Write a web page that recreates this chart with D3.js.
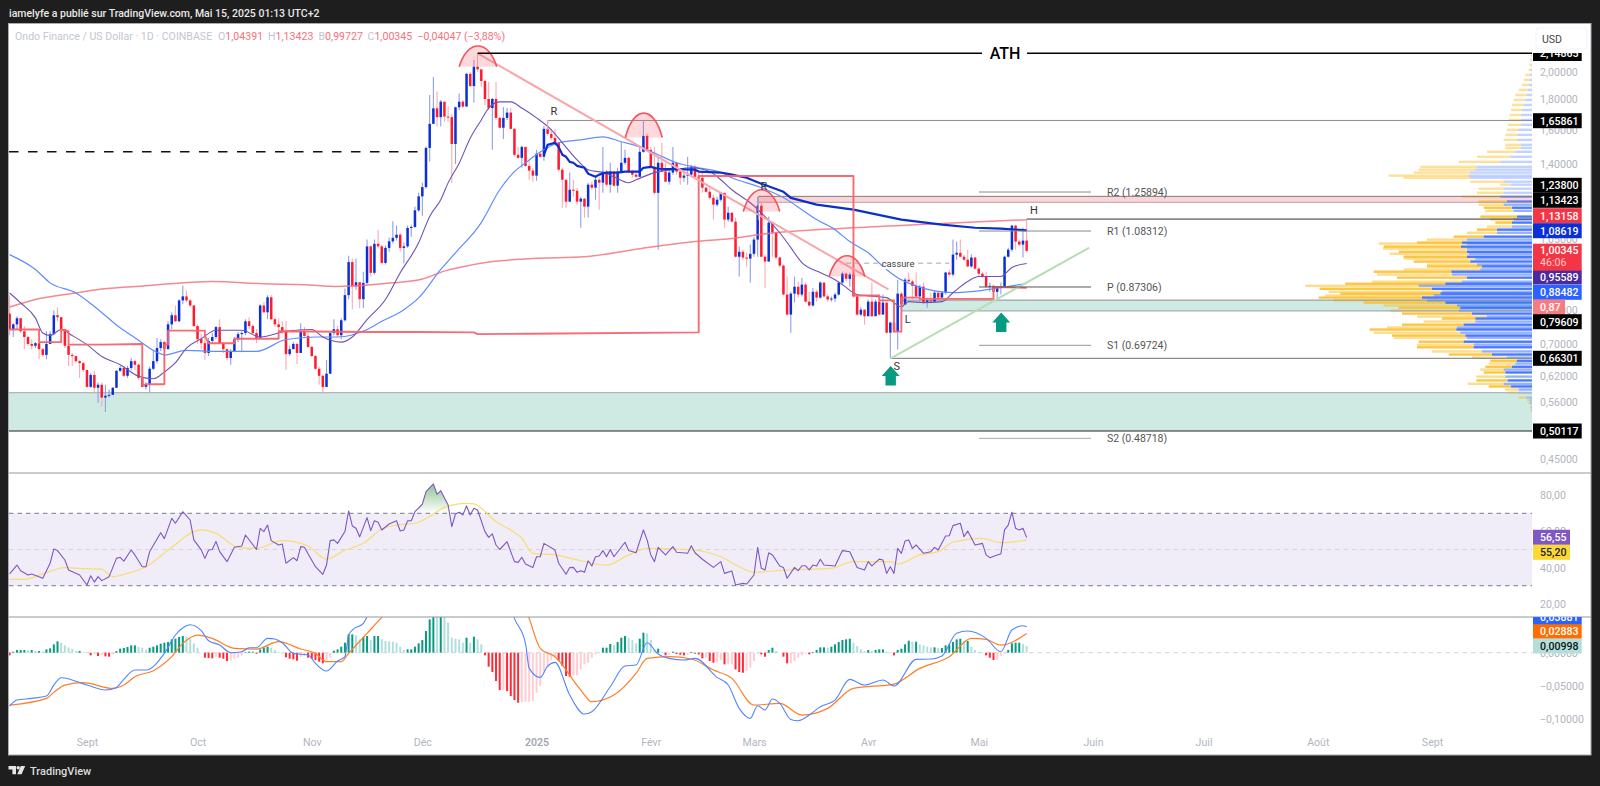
<!DOCTYPE html>
<html><head><meta charset="utf-8"><title>Ondo Finance / US Dollar</title>
<script src="https://cdn.jsdelivr.net/npm/d3@7/dist/d3.min.js"></script>
<style>html,body{margin:0;padding:0;background:#1e1e1e;overflow:hidden}svg{display:block}text{font-family:Roboto,"Liberation Sans",sans-serif}</style>
</head><body><svg id="c" width="1600" height="786"></svg>
<script>
// ---------- DATA ----------
const closes=[.742,.756,.774,.736,.720,.701,.696,.703,.687,.672,.701,.728,.783,.777,.742,.696,.672,.669,.656,.651,.634,.594,.622,.592,.599,.570,.574,.576,.592,.632,.639,.620,.639,.656,.647,.615,.594,.599,.637,.656,.690,.706,.687,.756,.783,.765,.829,.842,.829,.813,.751,.714,.703,.677,.709,.720,.748,.703,.687,.664,.682,.714,.728,.731,.765,.751,.731,.717,.813,.792,.839,.771,.756,.748,.736,.674,.687,.701,.677,.736,.723,.693,.669,.637,.620,.594,.625,.731,.742,.725,.768,.846,.961,.875,.889,.833,
.887,1.021,.922,1.031,1.021,.958,1.015,1.041,1.055,1.068,1.015,1.021,1.096,1.100,1.173,1.238,1.283,1.492,1.637,1.738,1.680,1.783,1.684,1.680,1.515,1.745,1.783,1.750,1.985,1.894,2.040,2.020,
1.931,1.802,1.740,1.802,1.675,1.613,1.675,1.710,1.606,1.453,1.436,1.498,1.392,1.367,1.341,1.459,1.442,1.606,1.575,1.551,1.522,1.372,1.320,1.213,1.270,1.265,1.213,1.227,1.190,1.295,1.280,1.320,1.305,1.362,1.295,1.362,1.290,1.362,1.409,1.436,1.362,1.346,1.335,1.470,1.563,1.481,1.387,1.255,1.409,1.362,1.310,1.357,1.409,1.362,1.330,1.341,1.346,1.387,1.335,1.330,1.280,1.260,1.231,1.199,1.222,1.255,1.132,1.162,1.123,.981,1.000,.978,.974,.992,1.048,1.194,.981,.963,1.119,1.077,.978,.948,.848,.785,.851,.874,.848,.881,.825,.813,.857,.838,.888,.842,.832,.835,.848,.888,.919,.901,.916,.842,.785,.800,.780,.825,.780,.825,.785,.822,.732,.761,.735,.851,.816,.898,.892,.877,.842,.874,.822,.829,.825,.854,.838,.854,.923,.916,.989,.996,.981,.970,.945,.978,.937,.919,.909,.874,.877,.857,.870,.874,.981,1.008,1.106,1.040,1.028,1.04391,1.00345];
const highs=[.846,.759,.780,.774,.751,.723,.714,.706,.703,.690,.736,.736,.798,.807,.777,.742,.701,.677,.669,.659,.654,.634,.627,.632,.604,.604,.599,.588,.594,.634,.644,.644,.644,.664,.659,.651,.615,.605,.642,.682,.717,.714,.709,.765,.792,.813,.833,.878,.861,.833,.813,.756,.728,.728,.717,.731,.751,.771,.706,.687,.687,.720,.734,.736,.771,.777,.756,.742,.817,.823,.846,.846,.777,.774,.765,.765,.696,.706,.703,.759,.748,.731,.696,.672,.642,.622,.659,.736,.771,.751,.774,.868,.985,.974,.974,.889,
.926,1.048,1.024,1.048,1.089,1.028,1.024,1.056,1.125,1.106,1.076,1.036,1.106,1.110,1.190,1.255,1.305,1.500,1.830,1.961,1.854,1.795,1.783,1.750,1.699,1.750,1.841,1.795,1.993,2.000,2.094,2.14865,
2.015,1.939,1.924,1.809,1.924,1.681,1.747,1.740,1.740,1.613,1.498,1.504,1.498,1.425,1.382,1.481,1.470,1.625,1.662,1.606,1.606,1.528,1.382,1.320,1.357,1.320,1.280,1.236,1.231,1.305,1.310,1.330,1.335,1.498,1.372,1.409,1.362,1.382,1.528,1.481,1.442,1.372,1.362,1.498,1.662,1.575,1.498,1.498,1.442,1.522,1.409,1.372,1.498,1.414,1.372,1.362,1.442,1.398,1.398,1.362,1.357,1.285,1.280,1.246,1.236,1.260,1.255,1.190,1.167,1.141,1.020,1.008,.996,1.028,1.060,1.236,1.213,.989,1.145,1.123,1.081,.981,.952,.909,.857,.909,.892,.905,.888,.857,.870,.864,.892,.888,.848,.842,.854,.892,.926,.923,.923,.923,.848,.809,.800,.832,.888,.832,.832,.848,.822,.764,.832,.898,.857,.905,.923,.898,.923,.881,.888,.838,.854,.860,.857,.857,.926,.934,1.048,1.040,1.048,.989,1.008,.989,.981,.941,.926,.926,.888,.881,.874,.888,.985,1.016,1.110,1.110,1.048,1.097,1.13423];
const lows=[.725,.720,.742,.731,.687,.696,.687,.690,.661,.667,.661,.701,.725,.765,.736,.690,.644,.644,.651,.615,.629,.592,.592,.581,.559,.551,.539,.570,.579,.592,.629,.617,.615,.634,.634,.610,.594,.588,.581,.634,.651,.682,.647,.696,.742,.762,.762,.817,.823,.807,.748,.701,.687,.659,.669,.703,.714,.701,.677,.659,.647,.679,.706,.679,.725,.742,.728,.703,.714,.789,.771,.768,.748,.731,.728,.634,.669,.687,.649,.677,.720,.690,.667,.634,.599,.581,.594,.625,.725,.720,.714,.765,.833,.801,.864,.804,
.805,.881,.909,.916,1.012,.952,.952,1.000,1.032,1.044,1.001,.957,1.016,1.060,1.097,1.167,1.149,1.275,1.416,1.637,1.620,1.620,1.651,1.651,1.304,1.403,1.727,1.738,1.750,1.887,1.777,2.000,
1.888,1.760,1.727,1.481,1.662,1.606,1.545,1.662,1.600,1.442,1.431,1.382,1.387,1.320,1.310,1.315,1.436,1.420,1.563,1.539,1.510,1.362,1.185,1.185,1.213,1.236,1.199,1.097,1.141,1.141,1.270,1.222,1.176,1.255,1.285,1.255,1.285,1.255,1.357,1.398,1.357,1.330,1.330,1.335,1.465,1.470,1.382,1.246,1.008,1.357,1.310,1.295,1.346,1.346,1.295,1.310,1.295,1.335,1.330,1.310,1.255,1.255,1.222,1.132,1.190,1.213,1.097,1.123,1.119,.978,.909,.970,.945,.888,.981,.981,.978,.870,.963,.981,.970,.941,.845,.782,.732,.822,.838,.842,.822,.809,.809,.825,.835,.838,.825,.825,.825,.845,.881,.892,.874,.838,.780,.780,.755,.780,.778,.780,.782,.785,.730,.66301,.732,.686,.809,.816,.888,.832,.838,.825,.816,.806,.822,.822,.832,.835,.848,.909,.909,.970,.978,.965,.941,.941,.934,.909,.905,.870,.857,.854,.835,.848,.870,.978,1.000,1.008,1.020,.978,.99727];
const firstOpen=.788;

// moving averages: [candle index, value]
const maPurple=[[0,.853],[3,.821],[7,.775],[9,.731],[11,.724],[14,.741],[17,.724],[21,.699],[25,.668],[30,.647],[35,.619],[39,.613],[42,.629],[45,.652],[48,.690],[52,.715],[56,.739],[63,.739],[68,.720],[75,.736],[82,.741],[85,.720],[90,.706],[93,.720],[97,.770],[102,.832],[106,.922],[111,1.035],[114,1.146],[117,1.222],[119,1.304],[122,1.407],[125,1.549],[128,1.662],[130,1.740],[133,1.782],[136,1.782],[139,1.740],[143,1.675],[147,1.600],[150,1.522],[154,1.425],[157,1.372],[161,1.357],[164,1.335],[168,1.305],[170,1.320],[176,1.362],[180,1.372],[185,1.382],[190,1.362],[193,1.320],[196,1.270],[201,1.208],[205,1.145],[209,1.076],[212,1.016],[215,.959],[220,.923],[224,.898],[226,.881],[230,.848],[235,.842],[238,.838],[242,.809],[244,.825],[248,.822],[253,.825],[256,.854],[260,.892],[263,.909],[269,.909],[272,.941],[276,.95589]];
const maBlue=[[0,.989],[7,.934],[11,.887],[18,.853],[23,.810],[30,.746],[34,.718],[40,.679],[42,.672],[48,.684],[56,.681],[67,.681],[75,.713],[83,.720],[89,.720],[97,.741],[101,.765],[107,.800],[111,.837],[117,.934],[121,.996],[128,1.119],[133,1.270],[137,1.362],[140,1.409],[145,1.481],[149,1.522],[155,1.539],[161,1.557],[166,1.528],[171,1.498],[176,1.453],[181,1.409],[187,1.382],[193,1.357],[196,1.330],[204,1.280],[211,1.222],[215,1.176],[219,1.132],[224,1.089],[228,1.040],[233,.996],[237,.945],[241,.905],[245,.881],[251,.860],[256,.854],[263,.860],[267,.867],[272,.877],[276,.88482]];
const ma200=[[0,.808],[7,.832],[18,.853],[25,.866],[37,.877],[55,.892],[69,.884],[80,.881],[89,.875],[104,.887],[112,.900],[118,.928],[122,.941],[131,.963],[142,.974],[156,.981],[171,1.012],[186,1.040],[196,1.052],[203,1.068],[229,1.097],[253,1.115],[276,1.13158]];
const maThick=[[145,1.453],[146,1.510],[148,1.522],[149,1.498],[150,1.453],[151,1.442],[152,1.414],[153,1.409],[154,1.392],[156,1.382],[157,1.351],[159,1.335],[160,1.346],[162,1.357],[165,1.357],[167,1.362],[171,1.362],[172,1.382],[174,1.387],[176,1.377],[186,1.372],[187,1.362],[193,1.357],[196,1.346],[200,1.330],[204,1.300],[210,1.260],[212,1.231],[219,1.199],[229,1.176],[242,1.132],[253,1.110],[262,1.097],[269,1.093],[276,1.08619]];
const stepRed=[[0,.741],[8,.741],[8,.706],[14,.706],[14,.741],[16,.736],[16,.699],[25,.699],[36,.701],[36,.597],[37,.600],[42,.600],[42,.699],[43,.699],[43,.738],[53,.738],[53,.724],[54,.703],[61,.703],[61,.715],[73,.715],[73,.736],[98,.734],[110,.734],[126,.733],[127,.728],[141,.729],[187,.733],[187,1.339],[229,1.339],[229,.845],[236,.845],[236,.829],[240,.829],[240,.735],[242,.735],[242,.838],[247,.838],[247,.834],[267,.834],[267,.873],[276,.87]];

// drawings
const trendRed=[[127,2.14865],[238.5,.8654]];
const trendGreen=[[239.1,.66301],[293,1.016]];
const arcDays=[[122,132.2],[167.1,177.1],[199.1,209],[222.4,232.1]];
const arcBase=[2.040,1.553,1.168,.909];
const arcTop=[2.21,1.706,1.270,.985];
const arrowDays=[239.1,269.1];
const arrowPrices=[.644,.791];
const levelAth=2.14865,levelR=1.65861,levelS=.66301,levelH=1.13423;
const bandPink=[1.238,1.21],bandGreen=[.83,.79609],bandZone=[.581,.50117];
const dashedLevel=1.47,cassureLevel=.957;
const pivotNames=["R2 (1.25894)","R1 (1.08312)","P (0.87306)","S1 (0.69724)","S2 (0.48718)"];
const pivotValues=[1.25894,1.08312,.87306,.69724,.48718];

// volume profile
const profilePrice=[2.134,2.094,2.055,2.015,1.977,1.939,1.902,1.866,1.830,1.795,1.761,1.727,1.694,1.662,1.631,1.600,1.569,1.539,1.510,1.492,1.470,1.442,1.414,1.387,1.372,1.357,1.341,1.330,1.310,1.295,1.275,1.255,1.236,1.213,1.199,1.185,1.171,1.145,1.132,1.119,1.102,1.089,1.076,1.060,1.048,1.036,1.032,1.020,1.012,1.000,.992,.981,.974,.963,.952,.945,.934,.926,.916,.905,.891,.884,.877,.867,.857,.851,.845,.838,.829,.822,.813,.806,.797,.788,.779,.773,.764,.755,.747,.741,.732,.724,.718,.707,.699,.692,.681,.673,.665,.657,.650,.642,.635,.628,.618,.609,.601,.595,.588,.581,.570,.564,.558,.549,.543];
const profileTotal=[3,6,8,10,20,25,30,40,50,55,60,63,67,70,72,75,80,85,80,80,135,165,220,335,340,355,430,385,185,95,160,165,210,160,160,145,140,155,125,110,135,165,195,235,315,345,460,445,447,400,427,385,385,355,315,315,385,475,465,405,480,560,680,637,610,575,620,640,595,505,445,400,425,390,345,270,325,390,435,487,475,420,415,340,345,345,300,250,180,125,130,140,155,145,167,167,193,130,80,75,40,15,10,7,5];
const profileUp=[1,2,2,3,5,8,10,13,15,20,25,30,33,33,33,40,43,45,33,33,50,65,95,165,170,185,190,185,85,65,85,85,95,75,85,60,55,45,55,60,60,105,105,145,195,210,195,213,195,195,190,195,170,185,165,150,155,242,240,195,210,260,340,300,270,275,295,330,315,260,225,215,220,180,135,170,170,205,225,227,215,200,195,205,175,175,150,120,75,45,50,60,85,80,80,73,85,63,40,40,17,7,7,3,2];

// RSI
const rsiLine=[[0,36.5],[2,41.4],[3,38.3],[5,35.9],[6,36.5],[9,34.1],[11,42.4],[12,50.3],[13,49.4],[15,44.2],[16,38.7],[19,35.9],[21,30.4],[22,35.5],[23,32],[24,35],[25,32.8],[27,35],[29,45.1],[30,45.7],[31,43.6],[33,49.7],[34,47],[36,40.5],[37,40.5],[38,48.8],[41,59.3],[42,56],[44,67.2],[45,64.5],[47,70.9],[49,66.3],[50,55.3],[52,49.8],[53,45.1],[54,49.7],[55,50],[56,54.5],[57,48.8],[59,43.3],[61,51.2],[63,51.9],[64,58],[67,50],[68,61.7],[69,59.9],[70,63.5],[71,54.9],[73,52.5],[74,53],[75,42.4],[77,45.5],[78,43.8],[79,51.6],[80,51.2],[83,40.5],[85,36.3],[86,41.4],[87,54.9],[88,55.3],[89,53.4],[91,59.9],[92,71.3],[93,63],[94,61.7],[95,57],[97,67.6],[98,60.4],[99,65.9],[100,65],[101,60.8],[103,64.1],[105,65.9],[106,60.2],[107,60.8],[108,65.8],[109,65.9],[110,70.9],[112,75],[113,82],[115,86.2],[116,80.5],[117,82.5],[119,74.6],[120,62.6],[121,69.6],[122,70.6],[123,69.1],[124,74.1],[125,69.1],[126,72.8],[127,71.8],[129,59.9],[130,56.7],[131,58.6],[132,52.5],[133,50],[135,54.3],[137,43.3],[138,42.9],[139,45.7],[140,42],[142,40.1],[143,46],[144,46],[145,53.4],[148,49.7],[149,42.4],[151,36.3],[152,40],[153,40.1],[154,37.4],[155,38.3],[156,37.4],[157,43.8],[158,40.9],[159,46],[160,46.4],[161,49.4],[162,46],[163,50],[164,46],[167,54],[168,49.4],[170,48.2],[172,60.8],[173,55.3],[174,47],[175,43.3],[176,51.2],[178,47],[180,51.6],[181,48.5],[184,47.9],[185,52.1],[186,48.2],[188,44.6],[191,40.1],[193,43.3],[194,36.8],[196,38.1],[197,30.4],[199,31.3],[200,30.9],[202,35.9],[203,51.2],[204,39.6],[205,38.7],[206,48.2],[207,47],[209,40.9],[210,40.1],[211,34.1],[213,40.1],[214,38.3],[215,41],[216,41],[217,38.7],[218,41.4],[219,40.9],[220,44.6],[221,41.4],[224,40.9],[226,49.4],[228,48.8],[230,40.1],[232,38.7],[233,43.3],[234,40.9],[236,44.7],[237,44.2],[238,36.8],[239,40.5],[240,36.8],[241,50.6],[242,47.9],[243,54.7],[244,55.3],[245,50.6],[246,52.5],[248,47.9],[250,48.8],[251,51.2],[252,49.7],[254,57.5],[255,57.6],[256,63.2],[258,64.5],[259,57.1],[260,60.2],[262,52.5],[264,53.4],[265,47],[266,45.5],[268,47],[269,47.5],[270,60.8],[271,63.5],[272,70.6],[273,61.7],[274,60.8],[275,61.7],[276,56.55]];
const rsiMa=[[0,33.5],[4,33.5],[9,36.5],[15,40],[19,39.6],[25,39],[28,35],[32,36.8],[37,40.5],[44,51.2],[50,59.9],[52,60.8],[56,58.9],[62,51.2],[67,50.6],[74,54.9],[81,51.9],[86,44.7],[91,49.7],[96,53.4],[101,61.3],[105,63.5],[110,64.5],[114,68.2],[118,73.3],[124,75.5],[126,75.2],[132,65.4],[136,60.8],[139,56.2],[142,47.9],[148,47],[155,43.8],[162,41.4],[168,47],[173,50.6],[184,50],[193,46],[198,40.5],[202,37.4],[211,38.7],[223,39.6],[229,43.3],[239,43.3],[241,42],[247,47],[252,48.8],[256,54],[264,56.2],[269,53.8],[276,55.2]];
const rsiLevels=[70,50,30];

// MACD
const macdHist=[-.004,.0015,.004,.004,.004,.0035,.004,.0025,.0025,.002,.005,.0065,.0125,.017,.015,.011,.008,.006,.0025,.0025,.001,0,-.004,-.002,-.005,-.0035,-.0055,-.006,-.0025,.0025,.006,.007,.0085,.011,.011,.0085,.0075,.0045,.0075,.009,.011,.0135,.015,.016,.02,.021,.0235,.025,.024,.021,.014,.0075,0,-.0075,-.008,-.0085,-.0065,-.0075,-.009,-.0125,-.011,-.009,-.0075,-.004,.001,.0015,.0015,-.0015,.005,.0075,.009,.0075,.004,.0015,.001,-.007,-.009,-.01,-.012,-.006,-.005,-.0075,-.009,-.011,-.0135,-.016,-.011,-.0075,.003,.005,.009,.015,.0275,.0275,.026,.02,.0235,.025,.019,.025,.025,.02,.0175,.017,.0165,.015,.009,.004,.005,.005,.009,.014,.019,.0325,.05,.06,.055,.06,.0575,.045,.0225,.021,.02,.015,.0225,.015,.024,.02,.0125,-.004,-.021,-.029,-.0425,-.056,-.056,-.0575,-.065,-.071,-.075,-.074,-.0735,-.0735,-.0725,-.06,-.05,-.03,-.0225,-.011,-.005,-.0125,-.02,-.035,-.036,-.034,-.034,-.025,-.0175,-.015,-.0075,-.0025,0,.0075,.0075,.013,.0115,.016,.0225,.025,.0225,.019,.014,.021,.03,.029,.019,.005,.006,.0015,-.004,-.0025,.0015,-.002,-.003,-.004,-.003,.001,-.0015,-.0025,-.0085,-.0075,-.0125,-.015,-.014,-.011,-.0175,-.0175,-.0175,-.025,-.029,-.03,-.0275,-.0225,-.0125,-.0015,-.0025,-.006,.004,.0075,.0025,0,-.006,-.016,-.016,-.0125,-.0075,-.004,-.0015,-.0025,.001,.004,.008,.008,.0075,.009,.0125,.016,.019,.02,.021,.015,.01,.005,.0025,.004,.0025,.004,.005,.005,.0015,.001,-.004,.004,.006,.0125,.018,.0165,.0165,.0125,.011,.009,.008,.008,.007,.007,.011,.0125,.016,.02,.021,.0175,.0175,.009,.004,.0015,.0005,-.004,-.0075,-.011,-.011,-.005,-.0015,.004,.014,.015,.015,.013,.00998];
const macdLine=[[0,-.08],[2,-.071],[6,-.0685],[10,-.065],[12,-.0485],[14,-.0375],[21,-.0485],[26,-.056],[29,-.052],[31,-.04],[34,-.026],[37,-.026],[42,-.001],[45,.0265],[48,.0405],[49,.042],[52,.033],[54,.018],[57,.0115],[60,0],[63,.0015],[65,.0075],[67,.0075],[70,.0215],[72,.0205],[74,.015],[77,-.001],[81,-.0035],[83,-.016],[86,-.0275],[89,-.0125],[91,-.006],[92,.0265],[93,.034],[96,.044],[97,.054],[105,.12],[120,.24],[130,.2],[137,.0515],[140,.014],[141,-.0235],[144,-.037],[146,-.02],[148,-.0145],[152,-.0635],[156,-.092],[158,-.0885],[163,-.051],[167,-.02],[170,-.0185],[173,.015],[176,-.002],[179,-.0085],[183,-.011],[186,-.0085],[192,-.037],[195,-.0485],[198,-.0835],[201,-.0985],[203,-.0795],[205,-.086],[207,-.0695],[209,-.076],[212,-.1],[214,-.102],[217,-.0935],[220,-.081],[224,-.071],[228,-.04],[232,-.0485],[237,-.041],[240,-.05],[246,-.01],[250,-.0095],[253,-.005],[257,.029],[260,.0325],[265,.0215],[269,.0015],[272,.034],[275,.0405],[276,.03881]];
const macdSignal=[[0,-.0785],[10,-.0685],[12,-.0595],[15,-.0485],[20,-.045],[28,-.0535],[31,-.0485],[34,-.036],[39,-.027],[44,-.006],[47,.014],[51,.0265],[55,.0215],[61,.0065],[67,.0055],[73,.0165],[79,.0055],[83,-.001],[86,-.0135],[90,-.0135],[92,-.001],[97,.029],[101,.053],[110,.1],[120,.2],[130,.22],[136,.12],[141,.0515],[144,.0065],[148,-.006],[155,-.056],[158,-.0735],[164,-.0635],[170,-.031],[173,-.0085],[179,-.006],[185,-.0095],[191,-.026],[196,-.0385],[202,-.0785],[209,-.076],[215,-.0935],[222,-.0835],[229,-.0535],[240,-.047],[247,-.0235],[255,-.006],[261,.0215],[265,.02],[269,.0115],[276,.02883]];

// axis ticks
const priceTicks=[2,1.8,1.6,1.4,1.05,.8,.7,.62,.56,.45];
const rsiTicks=[80,60,40,20];
const macdTicks=[0,-.05,-.1];
const timeTicks=[[2024,8],[2024,9],[2024,10],[2024,11],[2025,0],[2025,1],[2025,2],[2025,3],[2025,4],[2025,5],[2025,6],[2025,7],[2025,8]];
const timeNames=["Sept","Oct","Nov","Déc","2025","Févr","Mars","Avr","Mai","Juin","Juil","Août","Sept"];

// value labels (text, stack position, colours, box width)
const priceTags=[
 {t:"1,65861",cy:120.7,bg:"#000",fg:"#fff"},{t:"1,23800",cy:185.3,bg:"#000",fg:"#fff"},{t:"1,13423",cy:200.3,bg:"#000",fg:"#fff"},
 {t:"1,13158",cy:215.7,bg:"#f23645",fg:"#fff"},{t:"1,08619",cy:230.7,bg:"#0b2fd6",fg:"#fff"},
 {t:"0,95589",cy:277,bg:"#4a2a9e",fg:"#fff"},{t:"0,88482",cy:292.3,bg:"#2962ff",fg:"#fff"},{t:"0,87",cy:307,bg:"#f77c80",fg:"#fff",w:32},
 {t:"0,79609",cy:321.7,bg:"#000",fg:"#fff"},{t:"0,66301",cy:358.3,bg:"#000",fg:"#fff"},{t:"0,50117",cy:431,bg:"#000",fg:"#fff"},
 {t:"56,55",cy:537.3,bg:"#7e57c2",fg:"#fff",w:37},{t:"55,20",cy:552.3,bg:"#fdd835",fg:"#222",w:37},
 {t:"0,02883",cy:631.3,bg:"#ff6d00",fg:"#fff"},{t:"0,00998",cy:646,bg:"#b2dfdb",fg:"#111"}];

// ---------- SCALES ----------
const dayMs=864e5, startMs=Date.UTC(2024,7,11);
const day=i=>new Date(startMs+i*dayMs);
const X0=9,X1=1532,Y0=24,Ym=473,Yr=617,Yb=755;
const x=d3.scaleUtc().domain([day(0),day(413)]).range([9.6,9.6+3.685*413]);
const y=d3.scaleLog().domain([2.14865,.50117]).range([53.3,431]);
const yr=d3.scaleLinear().domain([70,30]).range([513.3,585.7]);
const ym=d3.scaleLinear().domain([0,-.1]).range([652.7,719.4]);
const vol=d3.scaleLinear().domain([0,3]).range([0,1]);
const comma=(d,n)=>d.toFixed(n).replace(".",",").replace("-","−");

const svg=d3.select("#c");
svg.append("rect").attr("width",1600).attr("height",786).attr("fill","#1e1e1e");
svg.append("rect").attr("x",X0-.5).attr("y",Y0-.5).attr("width",1591-X0+.5).attr("height",Yb-Y0+.5).attr("fill","#fff").attr("stroke","#a8abb3");
const defs=svg.append("defs");
const clip=(id,a,b)=>defs.append("clipPath").attr("id",id).append("rect").attr("x",X0).attr("y",a).attr("width",X1-X0).attr("height",b-a);
clip("cMain",Y0,Ym);clip("cRsi",Ym,Yr);clip("cMacd",Yr,738);
const grad=defs.append("linearGradient").attr("id","gOb").attr("x1",0).attr("x2",0).attr("gradientUnits","userSpaceOnUse")
 .attr("y1",yr(86)).attr("y2",yr(70));
grad.append("stop").attr("offset",0).attr("stop-color","#43a047").attr("stop-opacity",.6);
grad.append("stop").attr("offset",1).attr("stop-color","#43a047").attr("stop-opacity",0);
defs.append("clipPath").attr("id","cOb").append("rect").attr("x",X0).attr("y",Ym).attr("width",X1-X0).attr("height",yr(70)-Ym);

// ---------- MAIN PANE ----------
const main=svg.append("g").attr("clip-path","url(#cMain)");
const hband=(p,x0,fill)=>main.append("rect").attr("x",x0).attr("y",y(p[0])).attr("width",X1-x0).attr("height",y(p[1])-y(p[0])).attr("fill",fill);
const hline=(p,x0,col,w,dash,x1)=>main.append("line").attr("x1",x0).attr("x2",x1||X1).attr("y1",y(p)).attr("y2",y(p)).attr("stroke",col).attr("stroke-width",w).attr("stroke-dasharray",dash||null);

hband(bandZone,X0,"#cfe9e3");
hband(bandGreen,x(day(242)),"#cfe9e3");
hband(bandPink,x(day(203.2)),"#fdd5d8");

// volume profile
const rowOp=p=>(p<=1.238&&p>=.588);
const prof=main.append("g");
prof.selectAll("rect.t").data(profilePrice).join("rect").attr("class","t")
 .attr("x",(p,i)=>X1-vol(profileTotal[i])).attr("y",p=>y(p)-1.2).attr("height",2.4)
 .attr("width",(p,i)=>vol(profileTotal[i])-vol(profileUp[i]))
 .attr("fill","#fbc02d").attr("opacity",(p,i)=>rowOp(p)?(i%2?.9:.55):.48);
prof.selectAll("rect.u").data(profilePrice).join("rect").attr("class","u")
 .attr("x",(p,i)=>X1-vol(profileUp[i])).attr("y",p=>y(p)-1.2).attr("height",2.4)
 .attr("width",(p,i)=>vol(profileUp[i]))
 .attr("fill","#2962ff").attr("opacity",(p,i)=>rowOp(p)?(i%2?.85:.5):.28);

// zone borders and levels
hline(bandZone[0],X0,"#b4b6ba",1.2);hline(bandZone[1],X0,"#222",1);
hline(bandGreen[0],x(day(242)),"#8a8d90",1);hline(bandGreen[1],x(day(242)),"#9a9c9f",1);
hline(bandPink[0],x(day(203.2)),"#7c7c7c",1);hline(bandPink[1],x(day(203.2)),"#b8a0a2",1);
hline(levelR,x(day(146)),"#8d8d8d",1);
hline(levelS,x(day(239.1)),"#8d8d8d",1.2);
hline(levelH,x(day(276)),"#333",1);
hline(dashedLevel,X0,"#111",1.4,"9.5 9.5",x(day(113)));

// candles
const opens=closes.map((c,i)=>i?closes[i-1]:firstOpen);
const up=i=>closes[i]>=opens[i];
const idx=d3.range(closes.length);
const BLUE="#0b2fd6",RED="#ff1a2e";
main.append("g").selectAll("line").data(idx).join("line")
 .attr("x1",i=>x(day(i))).attr("x2",i=>x(day(i))).attr("y1",i=>y(highs[i])).attr("y2",i=>y(lows[i]))
 .attr("stroke",i=>up(i)?"#8f9fe8":"#fbaab0").attr("stroke-width",1.1);
main.append("g").selectAll("rect").data(idx).join("rect")
 .attr("x",i=>x(day(i))-1.25).attr("width",2.5)
 .attr("y",i=>y(Math.max(opens[i],closes[i])))
 .attr("height",i=>Math.max(1,y(Math.min(opens[i],closes[i]))-y(Math.max(opens[i],closes[i]))))
 .attr("fill",i=>up(i)?BLUE:RED);

// indicator lines
const lp=d3.line().x(d=>x(day(d[0]))).y(d=>y(d[1]));
const lps=d3.line().x(d=>x(day(d[0]))).y(d=>y(d[1])).curve(d3.curveMonotoneX);
const draw=(g,gen,d,col,w,op)=>g.append("path").attr("d",gen(d)).attr("fill","none").attr("stroke",col).attr("stroke-width",w).attr("opacity",op||1).attr("stroke-linejoin","round");
draw(main,lps,ma200,"#f4737b",1.5,.85);
draw(main,lps,maBlue,"#5f8dff",1.2);
draw(main,lps,maPurple,"#6f52b5",1.1);
draw(main,lp,maThick,"#0b2fc9",2.2);
draw(main,lp,stepRed,"#f7636c",1.9,.95);

// drawings
draw(main,lp,trendRed,"#f9a6ab",2);
draw(main,lp,trendGreen,"#b5deb1",2);
// head and shoulder arcs
arcDays.forEach((d,k)=>{
  const a=x(day(d[0])),b=x(day(d[1])),yb=y(arcBase[k]),h=(yb-y(arcTop[k]))*4/3,w=b-a;
  const dd=`M${a},${yb}C${a+w*.22},${yb-h} ${b-w*.22},${yb-h} ${b},${yb}`;
  main.append("path").attr("d",dd).attr("fill","#f7525f").attr("fill-opacity",.22).attr("stroke","none");
  main.append("path").attr("d",dd).attr("fill","none").attr("stroke","#f2545f").attr("stroke-width",1.6);
});
// ATH
hline(levelAth,x(day(127)),"#000",1.6);
main.append("rect").attr("x",982).attr("y",y(levelAth)-8).attr("width",45).attr("height",16).attr("fill","#fff");
main.append("text").attr("x",1005).attr("y",y(levelAth)).attr("dy","0.36em").attr("text-anchor","middle").attr("font-size",16).attr("font-weight",500).attr("fill","#000").text("ATH");
// small verticals
main.append("line").attr("x1",x(day(146))).attr("x2",x(day(146))).attr("y1",y(levelR)).attr("y2",y(1.6)).attr("stroke","#f6a5aa").attr("stroke-width",1);
main.append("line").attr("x1",x(day(203.2))).attr("x2",x(day(203.2))).attr("y1",y(bandPink[0])).attr("y2",y(1.13)).attr("stroke","#9aa6d8").attr("stroke-width",1);
// cassure
const cy=y(cassureLevel);
main.append("line").attr("x1",x(day(227))).attr("x2",x(day(255))).attr("y1",cy).attr("y2",cy).attr("stroke","#a5a7ab").attr("stroke-width",1).attr("stroke-dasharray","5 4");
main.append("rect").attr("x",883).attr("y",cy-6).attr("width",30).attr("height",12).attr("fill","#fff");
main.append("text").attr("x",898).attr("y",cy).attr("dy","0.36em").attr("text-anchor","middle").attr("font-size",9.3).attr("fill","#444").text("cassure");
// letters
const letter=(t,xx,yy)=>main.append("text").attr("x",xx).attr("y",yy).attr("dy","0.36em").attr("text-anchor","middle").attr("font-size",11).attr("fill","#333").text(t);
letter("R",554,111);letter("R",764,186);letter("H",1034,210);letter("L",907.7,319);letter("S",896.7,366);
// pivots
pivotValues.forEach((p,k)=>{
  main.append("line").attr("x1",979).attr("x2",1091).attr("y1",y(p)).attr("y2",y(p)).attr("stroke",k==2?"#555":k==3||k==4?"#aaa":"#8a8a8a").attr("stroke-width",k==3?1.3:1);
  main.append("text").attr("x",1107).attr("y",y(p)).attr("dy","0.36em").attr("font-size",10.5).attr("fill","#555").text(pivotNames[k]);
});
// arrows
arrowDays.forEach((d,k)=>{
  main.append("path").attr("transform",`translate(${x(day(d))},${y(arrowPrices[k])})`)
   .attr("d","M0,0L9,10L5.2,10L5.2,19.5L-5.2,19.5L-5.2,10L-9,10Z").attr("fill","#089981");
});

// ---------- RSI ----------
const rg=svg.append("g").attr("clip-path","url(#cRsi)");
rg.append("rect").attr("x",X0).attr("width",X1-X0).attr("y",yr(70)).attr("height",yr(30)-yr(70)).attr("fill","#f0edf8");
rsiLevels.forEach(v=>rg.append("line").attr("x1",X0).attr("x2",X1).attr("y1",yr(v)).attr("y2",yr(v)).attr("stroke",v==50?"#d5d5db":"#787b86").attr("stroke-width",1).attr("stroke-dasharray","4.5 4"));
const lr=d3.line().x(d=>x(day(d[0]))).y(d=>yr(d[1]));
const lrs=d3.line().x(d=>x(day(d[0]))).y(d=>yr(d[1])).curve(d3.curveMonotoneX);
rg.append("path").attr("clip-path","url(#cOb)").attr("d",d3.area().x(d=>x(day(d[0]))).y0(yr(70)).y1(d=>yr(d[1]))(rsiLine)).attr("fill","url(#gOb)");
draw(rg,lrs,rsiMa,"#f9dc72",1.2);
draw(rg,lr,rsiLine,"#7e57c2",1.1);

// ---------- MACD ----------
const mg=svg.append("g").attr("clip-path","url(#cMacd)");
mg.append("line").attr("x1",X0).attr("x2",X1).attr("y1",ym(0)).attr("y2",ym(0)).attr("stroke","#d5d5db").attr("stroke-dasharray","4.5 4");
mg.append("g").selectAll("rect").data(macdHist).join("rect")
 .attr("x",(v,i)=>x(day(i))-1).attr("width",2)
 .attr("y",v=>v>=0?ym(v):ym(0)).attr("height",v=>Math.abs(ym(v)-ym(0)))
 .attr("fill",(v,i)=>{const p=i?macdHist[i-1]:0;return v>=0?(v>=p?"#089981":"#b2dfdb"):(v<p?"#ff2a35":"#ffcdd2");});
const lm=d3.line().x(d=>x(day(d[0]))).y(d=>ym(d[1])).curve(d3.curveMonotoneX);
draw(mg,lm,macdSignal,"#ff7f27",1.2);
draw(mg,lm,macdLine,"#4f86ff",1.1);

// ---------- SEPARATORS ----------
[Ym,Yr].forEach(v=>svg.append("line").attr("x1",X0).attr("x2",1591).attr("y1",v).attr("y2",v).attr("stroke","#9598a1").attr("stroke-width",1.2));

// ---------- AXES ----------
const FS=10.6,AX="#b2b5be";
const axisStyle=g=>{g.select(".domain").remove();g.selectAll("line").remove();g.selectAll("text").attr("font-size",FS).attr("fill",AX).attr("font-family",null).style("font-family",'Roboto,"Liberation Sans",sans-serif');};
svg.append("g").attr("transform",`translate(${X1},0)`).call(d3.axisRight(y).tickValues(priceTicks).tickFormat(d=>comma(d,5)).tickSize(0).tickPadding(8)).call(axisStyle);
svg.append("g").attr("transform",`translate(${X1},0)`).call(d3.axisRight(yr).tickValues(rsiTicks).tickFormat(d=>comma(d,2)).tickSize(0).tickPadding(8)).call(axisStyle);
svg.append("g").attr("transform",`translate(${X1},0)`).call(d3.axisRight(ym).tickValues(macdTicks).tickFormat(d=>comma(d,5)).tickSize(0).tickPadding(8)).call(axisStyle);
const tAxis=svg.append("g").attr("transform","translate(0,733)").call(d3.axisBottom(x).tickValues(timeTicks.map(t=>new Date(Date.UTC(t[0],t[1],1)))).tickFormat((d,i)=>timeNames[i]).tickSize(0).tickPadding(5)).call(axisStyle);
tAxis.selectAll("text").attr("font-weight",(d,i)=>timeNames[i]=="2025"?600:400).attr("fill",(d,i)=>timeNames[i]=="2025"?"#a3a6af":AX);

// ---------- VALUE TAGS ----------
const tag=(g,o)=>{
  const w=o.w||48.7;
  g.append("rect").attr("x",1533).attr("y",o.cy-7.5).attr("width",w).attr("height",15).attr("fill",o.bg);
  g.append("text").attr("x",1540).attr("y",o.cy).attr("dy","0.36em").attr("font-size",FS).attr("font-weight",500).attr("fill",o.fg).text(o.t);
};
const tags=svg.append("g");
priceTags.forEach(o=>tag(tags,o));
// current price tag with countdown
tags.append("rect").attr("x",1533).attr("y",243.7).attr("width",48.7).attr("height",27).attr("fill","#f23645");
tags.append("text").attr("x",1540).attr("y",250.3).attr("dy","0.36em").attr("font-size",FS).attr("font-weight",500).attr("fill","#fff").text("1,00345");
tags.append("text").attr("x",1540).attr("y",262).attr("dy","0.36em").attr("font-size",FS).attr("fill","#fcc").text("46:06");
// clipped tags
defs.append("clipPath").attr("id","cT1").append("rect").attr("x",1530).attr("y",53).attr("width",60).attr("height",8);
tag(svg.append("g").attr("clip-path","url(#cT1)"),{t:"2,14865",cy:53.5,bg:"#000",fg:"#fff"});
defs.append("clipPath").attr("id","cT2").append("rect").attr("x",1530).attr("y",Yr).attr("width",60).attr("height",8);
tag(svg.append("g").attr("clip-path","url(#cT2)"),{t:"0,03881",cy:616.7,bg:"#2962ff",fg:"#fff"});

// USD button
svg.append("rect").attr("x",1536).attr("y",28).attr("width",51).attr("height",21).attr("rx",3).attr("fill","#fff").attr("stroke","#f0f3fa");
svg.append("text").attr("x",1552).attr("y",39).attr("dy","0.36em").attr("text-anchor","middle").attr("font-size",FS).attr("fill","#444").text("USD");

// ---------- HEADER AND LEGEND ----------
svg.append("text").attr("x",9).attr("y",13.5).attr("dy","0.36em").attr("font-size",10.5).attr("font-weight",500).attr("fill","#e8e8e8").text("iamelyfe a publié sur TradingView.com, Mai 15, 2025 01:13 UTC+2");
const lg=svg.append("text").attr("x",15).attr("y",36.5).attr("dy","0.36em").attr("font-size",10.6);
const G="#c3c6cf",V="#f7727c";
[["Ondo Finance / US Dollar · 1D · COINBASE",G,15],["O",G,218],["1,04391",V],["H",G,268],["1,13423",V],["B",G,318.5],["0,99727",V],["C",G,367.5],["1,00345",V],["−0,04047 (−3,88%)",V,417.5]]
 .forEach(s=>{const t=lg.append("tspan").attr("fill",s[1]).text(s[0]);if(s[2])t.attr("x",s[2]);});

// ---------- FOOTER LOGO ----------
const logo=svg.append("g").attr("fill","#e6e6e6");
logo.append("path").attr("d","M8.5,766h7.5v8.2h-3.6v-4.6h-3.9z");
logo.append("circle").attr("cx",18.2).attr("cy",767.7).attr("r",1.7);
logo.append("path").attr("d","M20.8,766h4.4l-3.6,8.2h-4.4z");
svg.append("text").attr("x",30).attr("y",771).attr("dy","0.36em").attr("font-size",11).attr("font-weight",500).attr("fill","#dcdcdc").text("TradingView");
</script></body></html>
